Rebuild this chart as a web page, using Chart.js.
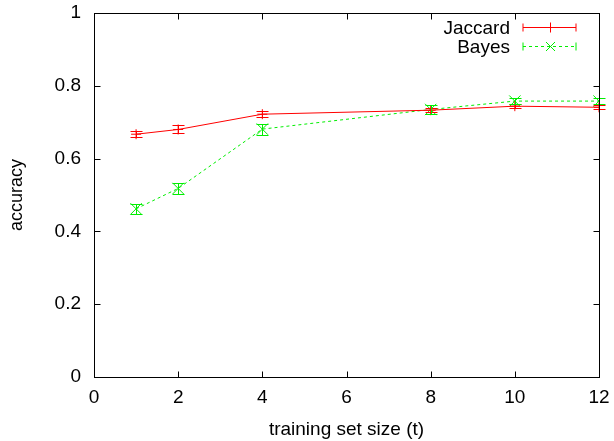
<!DOCTYPE html>
<html>
<head>
<meta charset="utf-8">
<script src="https://cdn.jsdelivr.net/npm/chart.js@4.4.1/dist/chart.umd.min.js"></script>
<style>
  html, body { margin: 0; padding: 0; background: #fff; }
  #wrap { width: 614px; height: 441px; }
</style>
</head>
<body>
<div id="wrap"><canvas id="chart" width="614" height="441"></canvas></div>
<script>
// training set sizes and measured accuracy with error
const sizes = [1, 2, 4, 8, 10, 12];
const jaccardAcc = [0.667, 0.680, 0.722, 0.733, 0.744, 0.741];
const jaccardErr = [0.009, 0.011, 0.008, 0.005, 0.005, 0.005];
const bayesAcc = [0.462, 0.518, 0.681, 0.735, 0.758, 0.758];
const bayesErr = [0.014, 0.014, 0.015, 0.013, 0.009, 0.009];
const xTicks = [0, 2, 4, 6, 8, 10, 12];
const yTicks = [0, 0.2, 0.4, 0.6, 0.8, 1];

const FONT = '"Liberation Sans", Arial, sans-serif';
const FONT_SIZE = 19;
const RED = '#ff0000';
const GREEN = '#00ee00';

function toPoints(xs, ys) {
  return xs.map((x, i) => ({ x: x, y: ys[i] }));
}

// vertical error bars with small caps
const errorBars = {
  id: 'errorBars',
  afterDatasetsDraw(chart) {
    const ctx = chart.ctx;
    const xs = chart.scales.x, ys = chart.scales.y;
    chart.data.datasets.forEach(ds => {
      ctx.save();
      ctx.strokeStyle = ds.borderColor;
      ctx.lineWidth = 1;
      ds.data.forEach((p, i) => {
        const e = ds.errors[i];
        const px = Math.round(xs.getPixelForValue(p.x)) + 0.5;
        const y1 = Math.round(ys.getPixelForValue(p.y - e)) + 0.5;
        const y2 = Math.round(ys.getPixelForValue(p.y + e)) + 0.5;
        ctx.beginPath();
        ctx.moveTo(px, y1); ctx.lineTo(px, y2);
        ctx.moveTo(px - 6, y1); ctx.lineTo(px + 6, y1);
        ctx.moveTo(px - 6, y2); ctx.lineTo(px + 6, y2);
        ctx.stroke();
      });
      ctx.restore();
    });
  }
};

// closed frame with inward ticks on all four sides
const frame = {
  id: 'frame',
  afterDraw(chart) {
    const ctx = chart.ctx;
    const a = chart.chartArea;
    const xs = chart.scales.x, ys = chart.scales.y;
    const L = Math.round(a.left) + 0.5, R = Math.round(a.right) + 0.5;
    const T = Math.round(a.top) + 0.5, B = Math.round(a.bottom) + 0.5;
    ctx.save();
    ctx.strokeStyle = '#000';
    ctx.lineWidth = 1;
    ctx.strokeRect(L, T, R - L, B - T);
    ctx.beginPath();
    xTicks.forEach(v => {
      const px = Math.round(xs.getPixelForValue(v)) + 0.5;
      ctx.moveTo(px, B); ctx.lineTo(px, B - 6);
      ctx.moveTo(px, T); ctx.lineTo(px, T + 6);
    });
    yTicks.forEach(v => {
      const py = Math.round(ys.getPixelForValue(v)) + 0.5;
      ctx.moveTo(L, py); ctx.lineTo(L + 6, py);
      ctx.moveTo(R, py); ctx.lineTo(R - 6, py);
    });
    ctx.stroke();
    ctx.restore();
  }
};

// key in the top right corner
const key = {
  id: 'key',
  afterDraw(chart) {
    const ctx = chart.ctx;
    const a = chart.chartArea;
    const x1 = a.right - 76, x2 = a.right - 23, textX = a.right - 89;
    ctx.save();
    ctx.font = FONT_SIZE + 'px ' + FONT;
    ctx.textAlign = 'right';
    ctx.textBaseline = 'middle';
    chart.data.datasets.forEach((ds, i) => {
      const y = Math.round(a.top + 14 + i * 19) + 0.5;
      ctx.fillStyle = '#000';
      ctx.fillText(ds.label, textX, y + 1);
      ctx.strokeStyle = ds.borderColor;
      ctx.lineWidth = 1;
      ctx.setLineDash(ds.borderDash || []);
      ctx.beginPath();
      ctx.moveTo(x1, y); ctx.lineTo(x2, y);
      ctx.stroke();
      ctx.setLineDash([]);
      ctx.strokeStyle = ds.borderColor;
      ctx.beginPath();
      ctx.moveTo(x1, y - 4); ctx.lineTo(x1, y + 4);
      ctx.moveTo(x2, y - 4); ctx.lineTo(x2, y + 4);
      const cx = Math.round((x1 + x2) / 2) + 0.5;
      if (ds.pointStyle === 'cross') {
        ctx.moveTo(cx - 5, y); ctx.lineTo(cx + 5, y);
        ctx.moveTo(cx, y - 5); ctx.lineTo(cx, y + 5);
      } else {
        ctx.moveTo(cx - 4.5, y - 4.5); ctx.lineTo(cx + 4.5, y + 4.5);
        ctx.moveTo(cx - 4.5, y + 4.5); ctx.lineTo(cx + 4.5, y - 4.5);
      }
      ctx.stroke();
    });
    ctx.restore();
  }
};

new Chart(document.getElementById('chart'), {
  type: 'scatter',
  data: {
    datasets: [
      {
        label: 'Jaccard',
        data: toPoints(sizes, jaccardAcc),
        errors: jaccardErr,
        showLine: true,
        borderColor: RED,
        backgroundColor: RED,
        pointBorderColor: RED,
        pointBackgroundColor: RED,
        borderWidth: 1,
        pointStyle: 'cross',
        pointRadius: 5,
        pointBorderWidth: 1
      },
      {
        label: 'Bayes',
        data: toPoints(sizes, bayesAcc),
        errors: bayesErr,
        showLine: true,
        borderColor: GREEN,
        backgroundColor: GREEN,
        pointBorderColor: GREEN,
        pointBackgroundColor: GREEN,
        borderWidth: 1,
        borderDash: [3, 3],
        pointStyle: 'crossRot',
        pointRadius: 8,
        pointBorderWidth: 1
      }
    ]
  },
  options: {
    responsive: false,
    animation: false,
    layout: { padding: { left: 0, right: 15, top: 13, bottom: 0 } },
    plugins: {
      legend: { display: false },
      tooltip: { enabled: false }
    },
    scales: {
      x: {
        type: 'linear',
        min: 0,
        max: 12,
        afterFit(s) {
          s.height = 64;
          s.paddingLeft = 0;
          s.paddingRight = 0;
        },
        grid: { display: false, drawTicks: false },
        border: { display: false },
        ticks: {
          stepSize: 2,
          padding: 9,
          color: '#000',
          font: { family: FONT, size: FONT_SIZE }
        },
        title: {
          display: true,
          text: 'training set size (t)',
          color: '#000',
          font: { family: FONT, size: FONT_SIZE },
          padding: { top: 0, bottom: 0 }
        }
      },
      y: {
        type: 'linear',
        min: 0,
        max: 1,
        afterFit(s) {
          s.width = 94;
          s.paddingTop = 0;
          s.paddingBottom = 0;
        },
        grid: { display: false, drawTicks: false },
        border: { display: false },
        ticks: {
          stepSize: 0.2,
          padding: 13,
          color: '#000',
          font: { family: FONT, size: FONT_SIZE },
          callback: v => String(Number(v.toFixed(1)))
        },
        title: {
          display: true,
          text: 'accuracy',
          color: '#000',
          font: { family: FONT, size: 18 },
          padding: { top: 6, bottom: 0 }
        }
      }
    }
  },
  plugins: [errorBars, frame, key]
});
</script>
</body>
</html>
